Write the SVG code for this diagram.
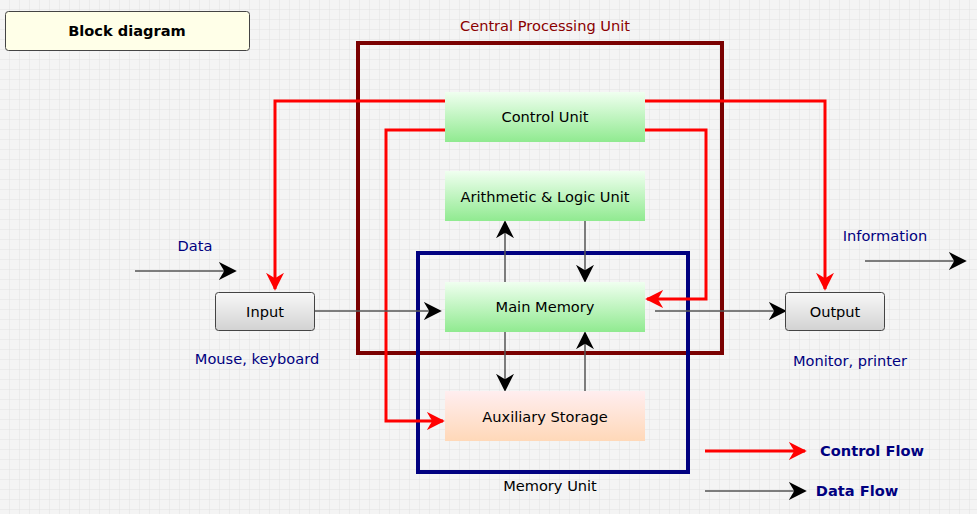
<svg xmlns="http://www.w3.org/2000/svg" width="977" height="514" viewBox="0 0 977 514">
<defs>
<pattern id="grid" width="10" height="10" patternUnits="userSpaceOnUse"><path d="M10 0V10H0" fill="none" stroke="#e2e2e2" stroke-width="1"/></pattern>
<linearGradient id="green" x1="0" y1="0" x2="0" y2="1"><stop offset="0" stop-color="#f0fff0"/><stop offset="1" stop-color="#90ea90"/></linearGradient>
<linearGradient id="pink" x1="0" y1="0" x2="0" y2="1"><stop offset="0" stop-color="#ffeef0"/><stop offset="1" stop-color="#ffd8b8"/></linearGradient>
<linearGradient id="gray" x1="0" y1="0" x2="0" y2="1"><stop offset="0" stop-color="#f8f8f8"/><stop offset="1" stop-color="#d2d2d2"/></linearGradient>
<marker id="abig" viewBox="0 0 10 10" refX="9" refY="5" markerWidth="18" markerHeight="18" markerUnits="userSpaceOnUse" orient="auto"><path d="M0 0L10 5L0 10L3 5Z" fill="#000"/></marker>
<marker id="ar" viewBox="0 0 10 10" refX="9" refY="5" markerWidth="18" markerHeight="18" markerUnits="userSpaceOnUse" orient="auto"><path d="M0 0L10 5L0 10L3 5Z" fill="#f00"/></marker>
</defs>
<style>
text{font-family:"DejaVu Sans",Verdana,sans-serif;font-size:14.6px;text-anchor:middle}
.n{fill:#000080}
.red{stroke:#f00;stroke-width:3;fill:none;marker-end:url(#ar)}
.dat{stroke:#555;stroke-width:1.5;fill:none;marker-end:url(#abig)}
</style>
<rect width="977" height="514" fill="#f4f4f4"/>
<rect width="977" height="514" fill="url(#grid)"/>
<g id="title"><rect x="5.5" y="11.5" width="244" height="39" rx="3" fill="#ffffe8" stroke="#444"/><text x="127" y="36" font-weight="bold">Block diagram</text></g>
<g id="cpu"><rect x="358" y="43" width="364" height="310" fill="none" stroke="#7a0000" stroke-width="4"/><text x="545" y="31" fill="#8b0000">Central Processing Unit</text></g>
<g id="memunit"><rect x="418" y="253" width="270" height="219" fill="none" stroke="#000080" stroke-width="4"/><text x="550" y="491">Memory Unit</text></g>
<g id="connectors">
<path class="red" d="M445 101H275V289"/>
<path class="red" d="M445 130H386V421H443"/>
<path class="red" d="M645 101H825V289"/>
<path class="red" d="M645 130H706V299H647"/>
<path class="dat" d="M135 271H235"/>
<path class="dat" d="M315 311H440"/>
<path class="dat" d="M655 311H785"/>
<path class="dat" d="M865 261H965"/>
<path class="dat" d="M505 282V222"/>
<path class="dat" d="M585 221V281"/>
<path class="dat" d="M505 332V390"/>
<path class="dat" d="M585 391V333"/>
<path class="red" d="M705 451H805"/>
<path class="dat" d="M705 491H805"/>
</g>
<g id="cu"><rect x="445" y="92" width="200" height="50" fill="url(#green)"/><text x="545" y="122">Control Unit</text></g>
<g id="alu"><rect x="445" y="171" width="200" height="50" fill="url(#green)"/><text x="545" y="202">Arithmetic &amp; Logic Unit</text></g>
<g id="mm"><rect x="445" y="282" width="200" height="50" fill="url(#green)"/><text x="545" y="312">Main Memory</text></g>
<g id="aux"><rect x="445" y="391" width="200" height="50" fill="url(#pink)"/><text x="545" y="422">Auxiliary Storage</text></g>
<g id="input"><rect x="215.5" y="292.5" width="99" height="38" rx="3" fill="url(#gray)" stroke="#444"/><text x="265" y="317">Input</text></g>
<g id="output"><rect x="785.5" y="292.5" width="99" height="38" rx="3" fill="url(#gray)" stroke="#444"/><text x="835" y="317">Output</text></g>
<g id="labels">
<text class="n" x="195" y="251">Data</text>
<text class="n" x="257" y="364">Mouse, keyboard</text>
<text class="n" x="885" y="241">Information</text>
<text class="n" x="850" y="366">Monitor, printer</text>
<text class="n" x="872" y="456" font-weight="bold">Control Flow</text>
<text class="n" x="857" y="496" font-weight="bold">Data Flow</text>
</g>
</svg>
